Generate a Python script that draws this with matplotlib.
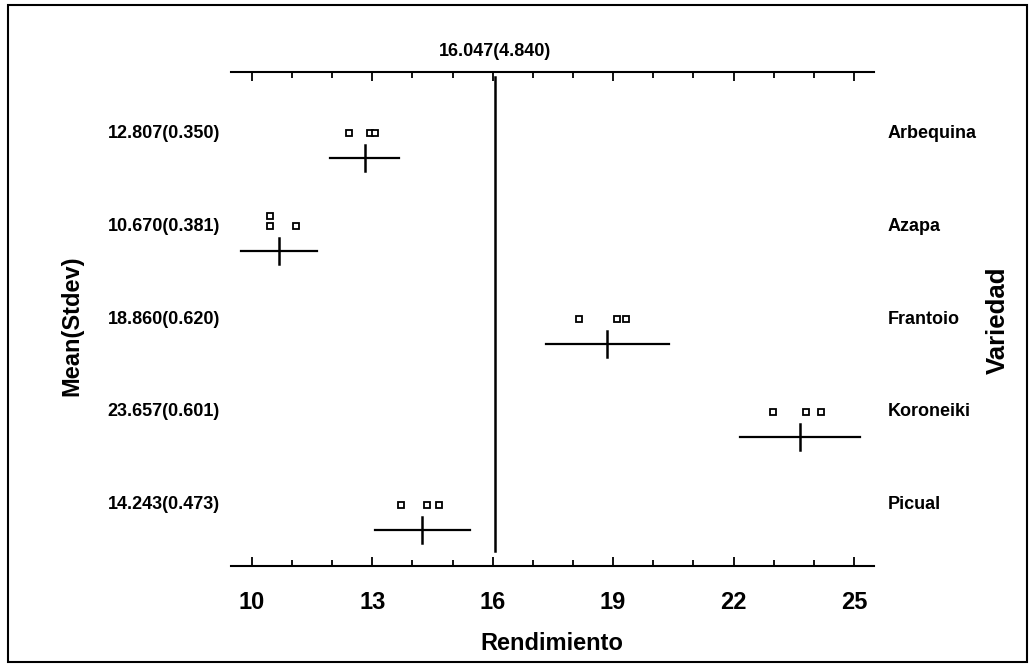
import numpy as np
import matplotlib
matplotlib.use("Agg")
import matplotlib.pyplot as plt
from matplotlib.patches import Rectangle
from matplotlib.ticker import MultipleLocator
from matplotlib.transforms import blended_transform_factory

plt.rcParams["font.family"] = ["Liberation Sans", "DejaVu Sans"]
plt.rcParams["font.weight"] = "bold"

# data
varieties = ["Arbequina", "Azapa", "Frantoio", "Koroneiki", "Picual"]
means = [12.807, 10.670, 18.860, 23.657, 14.243]
stdevs = [0.350, 0.381, 0.620, 0.601, 0.473]
ci_half = [0.87, 0.95, 1.54, 1.49, 1.18]
observations = [
    [12.41, 12.95, 13.06],
    [10.45, 10.45, 11.11],
    [18.16, 19.09, 19.33],
    [22.99, 23.80, 24.18],
    [13.72, 14.36, 14.65],
]
grand_mean = 16.047
grand_sd = 4.840
x_ticks = [10, 13, 16, 19, 22, 25]

W, H = 1035, 667
fig = plt.figure(figsize=(W / 100, H / 100), dpi=100)
ax = fig.add_axes([231 / W, 1 - 566 / H, 643 / W, 494 / H])

bar_off = 0.27
for i, (m, hw, obs) in enumerate(zip(means, ci_half, observations)):
    # points, stacked upward when values coincide
    seen = {}
    for v in obs:
        k = round(v, 2)
        lvl = seen.get(k, 0)
        seen[k] = lvl + 1
        ax.plot(v, i - 0.105 * lvl, marker="s", ms=4.5, mfc="white",
                mec="black", mew=1.3, ls="none")
    ax.plot([m - hw, m + hw], [i + bar_off, i + bar_off], color="black", lw=1.6)
    ax.plot([m, m], [i + bar_off - 0.14, i + bar_off + 0.14], color="black", lw=1.8)

ax.axvline(grand_mean, ymin=0.03, ymax=0.99, color="black", lw=1.8)

ax.set_xlim(9.48, 25.5)
ax.set_ylim(4.656, -0.656)
ax.set_yticks([])
for s in ["left", "right"]:
    ax.spines[s].set_visible(False)
for s in ["top", "bottom"]:
    ax.spines[s].set_linewidth(1.5)

ax.set_xticks(x_ticks)
ax.xaxis.set_minor_locator(MultipleLocator(1))
ax.tick_params(axis="x", which="both", direction="in", top=True, bottom=True,
               width=1.3, labelsize=17, pad=18)
ax.tick_params(axis="x", which="major", length=6.5)
ax.tick_params(axis="x", which="minor", length=4)
for lab in ax.get_xticklabels():
    lab.set_fontweight("bold")

tr = blended_transform_factory(fig.transFigure, ax.transData)
for i, (name, m, sd) in enumerate(zip(varieties, means, stdevs)):
    ax.text(220 / W, i, f"{m:.3f}({sd:.3f})", transform=tr, ha="right",
            va="center", fontsize=13, fontweight="bold")
    ax.text(888 / W, i, name, transform=tr, ha="left", va="center",
            fontsize=13, fontweight="bold")

ax.text(grand_mean, (566 - 51) / 494, f"{grand_mean:.3f}({grand_sd:.3f})",
        transform=blended_transform_factory(ax.transData, ax.transAxes),
        ha="center", va="center", fontsize=13, fontweight="bold")

fig.text(552 / W, 1 - 643 / H, "Rendimiento", ha="center", va="center",
         fontsize=17, fontweight="bold")
fig.text(72 / W, 1 - 326 / H, "Mean(Stdev)", rotation=90, ha="center",
         va="center", fontsize=17, fontweight="bold")
fig.text(998 / W, 1 - 320 / H, "Variedad", rotation=90, ha="center",
         va="center", fontsize=18.5, fontweight="bold")

fig.patches.append(Rectangle((8 / W, 5 / H), 1019 / W, 657 / H, fill=False,
                             lw=1.5, ec="black", transform=fig.transFigure))

fig.savefig("out.png", dpi=100)
